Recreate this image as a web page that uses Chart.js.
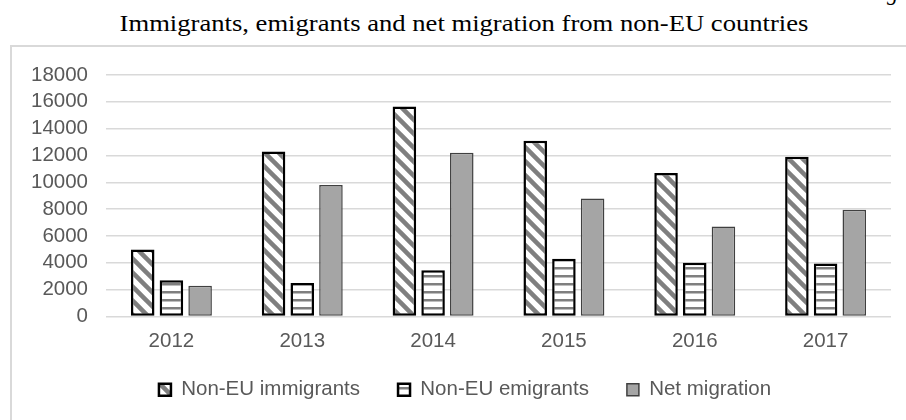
<!DOCTYPE html>
<html>
<head>
<meta charset="utf-8">
<script src="https://cdn.jsdelivr.net/npm/chart.js@4.4.1/dist/chart.umd.min.js"></script>
<style>
  html, body { margin: 0; padding: 0; background: #fff; }
  #page { position: relative; width: 906px; height: 420px; overflow: hidden; }
  #fig-tag { position: absolute; left: 887px; top: -18px; font: italic 22px "Liberation Serif"; line-height: 22px; color: #000; }
  #title { position: absolute; left: 464px; top: 13px; transform: translateX(-50%) scaleX(1.157); white-space: nowrap;
           font: 23px "Liberation Serif"; line-height: 22px; color: #000; }
  #frame { position: absolute; left: 10px; top: 45px; width: 1000px; height: 500px; border: 2px solid #d9d9d9; }
  #chart { position: absolute; left: 0; top: 0; }
</style>
</head>
<body>
<div id="page">
  <span id="fig-tag">g</span>
  <div id="title">Immigrants, emigrants and net migration from non-EU countries</div>
  <div id="frame"></div>
  <canvas id="chart" width="906" height="420"></canvas>
</div>
<script>
// Yearly figures
const YEARS = ["2012", "2013", "2014", "2015", "2016", "2017"];
const IMMIGRANTS = [5000, 12300, 15650, 13100, 10700, 11900];
const EMIGRANTS = [2700, 2500, 3450, 4300, 4000, 3950];
const NET_MIGRATION = [2300, 9800, 12200, 8800, 6700, 7950];
const Y_MAX = 18000;
const Y_STEP = 2000;

const FONT = "'Liberation Sans', Arial, sans-serif";
const FONT_SIZE = 20.5;
const TEXT_GREY = "#595959";

// ===== Fill patterns (Excel-like hatching) =====
function diagonalPattern() {
  const size = 14;
  const c = document.createElement("canvas");
  c.width = size; c.height = size;
  const g = c.getContext("2d");
  g.fillStyle = "#fff";
  g.fillRect(0, 0, size, size);
  g.strokeStyle = "#7f7f7f";
  g.lineWidth = 4.5;
  g.lineCap = "square";
  for (const off of [-size, 0, size]) {
    g.beginPath();
    g.moveTo(off, 0);
    g.lineTo(off + size, size);
    g.stroke();
  }
  return g.createPattern(c, "repeat");
}

function horizontalPattern() {
  const c = document.createElement("canvas");
  c.width = 8; c.height = 8;
  const g = c.getContext("2d");
  g.fillStyle = "#fff";
  g.fillRect(0, 0, 8, 8);
  g.fillStyle = "#7f7f7f";
  g.fillRect(0, 3, 8, 2.5);
  return g.createPattern(c, "repeat");
}

// legend sits a bit right of the canvas centre and tucked up under the axis labels
const legendNudge = {
  id: "legendNudge",
  afterLayout(chart) {
    const lg = chart.legend;
    if (!lg) return;
    lg.left += 19.5; lg.right += 19.5;
    lg.top -= 10; lg.bottom -= 10;
  }
};

const ctx = document.getElementById("chart").getContext("2d");
new Chart(ctx, {
  type: "bar",
  data: {
    labels: YEARS,
    datasets: [
      { label: "Non-EU immigrants", data: IMMIGRANTS, backgroundColor: diagonalPattern(),
        borderColor: "#000", borderWidth: 2.5, borderSkipped: false },
      { label: "Non-EU emigrants", data: EMIGRANTS, backgroundColor: horizontalPattern(),
        borderColor: "#000", borderWidth: 2.5, borderSkipped: false },
      { label: "Net migration", data: NET_MIGRATION, backgroundColor: "#a5a5a5",
        borderColor: "#404040", borderWidth: 1.5, borderSkipped: false }
    ]
  },
  plugins: [legendNudge],
  options: {
    responsive: false,
    animation: false,
    devicePixelRatio: 1,
    categoryPercentage: 0.658,
    barPercentage: 0.82,
    layout: { padding: { left: 0, right: 15, top: 75, bottom: 0 } },
    plugins: {
      title: { display: false },
      tooltip: { enabled: false },
      legend: {
        position: "bottom",
        labels: {
          color: TEXT_GREY,
          font: { family: FONT, size: FONT_SIZE },
          boxWidth: 12,
          boxHeight: 12,
          padding: 38
        }
      }
    },
    scales: {
      x: {
        grid: { display: false },
        border: { display: false },
        ticks: { color: TEXT_GREY, font: { family: FONT, size: FONT_SIZE }, padding: 5 },
        afterFit: (scale) => { scale.height = 35; }
      },
      y: {
        min: 0,
        max: Y_MAX,
        grid: { color: "#d9d9d9", lineWidth: 1.5, drawTicks: false },
        border: { display: false },
        ticks: {
          stepSize: Y_STEP,
          autoSkip: false,
          color: TEXT_GREY,
          font: { family: FONT, size: FONT_SIZE },
          padding: 18,
          callback: (v) => String(v)
        },
        afterFit: (scale) => { scale.width = 106; }
      }
    }
  }
});
</script>
</body>
</html>
